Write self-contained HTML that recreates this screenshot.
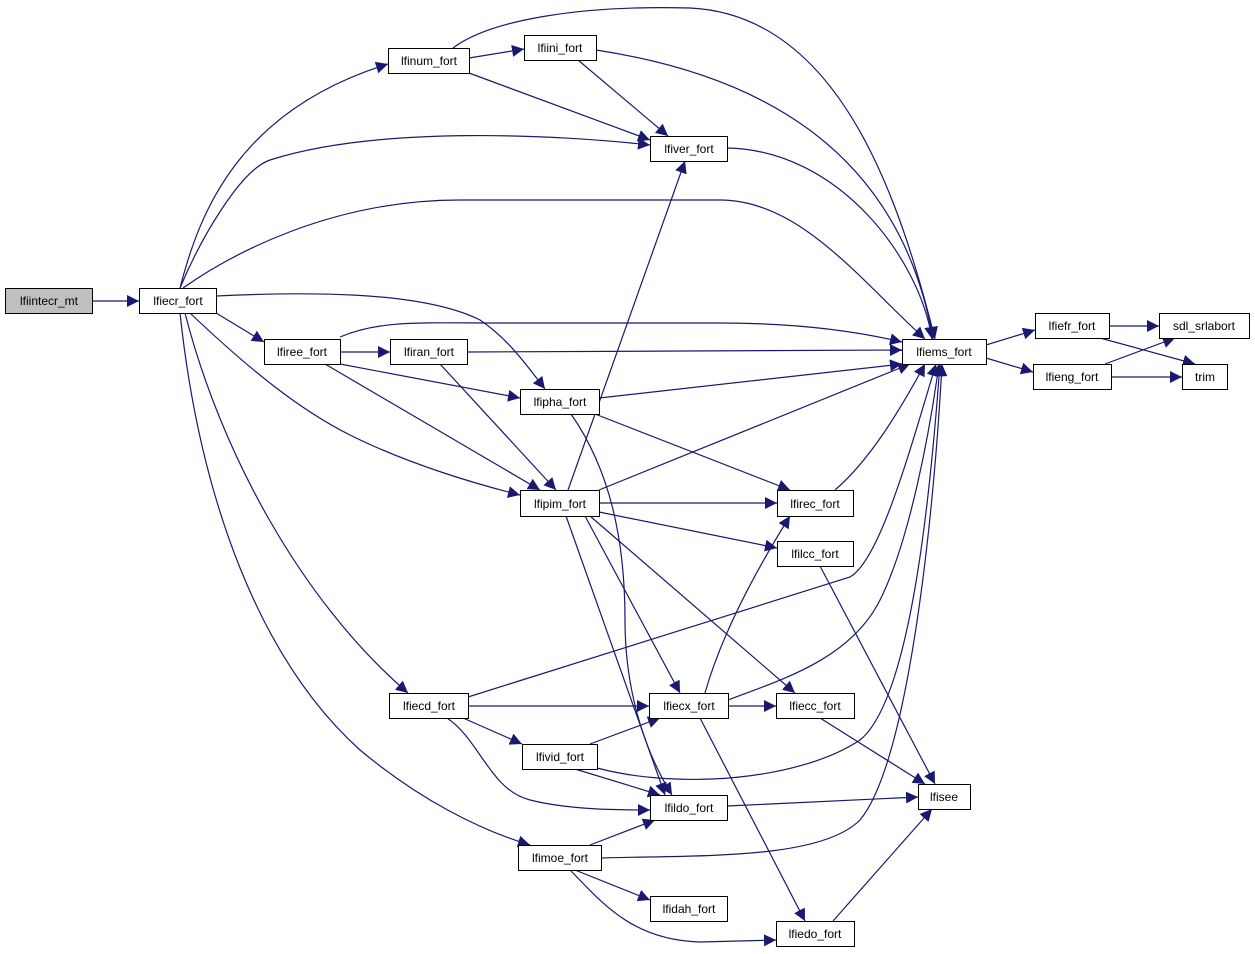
<!DOCTYPE html>
<html><head><meta charset="utf-8"><style>
html,body{margin:0;padding:0;background:#fff;width:1255px;height:954px;overflow:hidden}
svg{display:block}
text{font-family:"Liberation Sans",Arial,sans-serif;font-size:12px;fill:#000}
</style></head><body>
<svg width="1255" height="954" viewBox="0 0 1255 954" xmlns="http://www.w3.org/2000/svg">
<defs><marker id="a" viewBox="0 0 10 10" refX="10" refY="5" markerWidth="12" markerHeight="12" markerUnits="userSpaceOnUse" orient="auto"><path d="M0,0 L10,5 L0,10 z" fill="#191970"/></marker></defs>
<g fill="none" stroke="#191970" stroke-width="1.2" marker-end="url(#a)">
<path d="M92,301 L139,301"/>
<path d="M180,288 C200,210 240,110 388,64"/>
<path d="M180,288 C200,240 240,170 270,160 C380,125 560,135 650,145"/>
<path d="M183,288 C230,255 330,200 460,200 L720,200 C800,200 860,280 925,339"/>
<path d="M216,313 L264,342"/>
<path d="M216,296 C300,292 420,290 480,320 C510,340 530,370 545,389"/>
<path d="M190,313 C250,370 300,410 350,435 C410,465 480,485 520,495"/>
<path d="M185,313 C220,450 300,600 408,693"/>
<path d="M180,313 C200,500 260,660 360,750 C420,800 480,830 530,845"/>
<path d="M469,58 L524,49"/>
<path d="M469,73 L650,140"/>
<path d="M453,48 C490,20 580,5 690,8 C840,15 900,200 935,339"/>
<path d="M578,60 L668,136"/>
<path d="M596,50 C760,75 900,150 933,339"/>
<path d="M727,148 C840,150 920,260 932,339"/>
<path d="M340,352 L390,352"/>
<path d="M340,337 C380,320 420,323 500,323 L720,323 C800,323 860,332 902,342"/>
<path d="M340,364 L520,398"/>
<path d="M325,364 L540,490"/>
<path d="M467,352 L902,350"/>
<path d="M440,364 L556,490"/>
<path d="M599,398 L902,364"/>
<path d="M595,414 L790,490"/>
<path d="M571,414 C610,470 625,540 625,620 C625,700 650,760 672,795"/>
<path d="M568,490 L685,161"/>
<path d="M599,490 L910,364"/>
<path d="M599,503 L777,503"/>
<path d="M599,512 L777,548"/>
<path d="M585,516 L680,693"/>
<path d="M590,516 L795,693"/>
<path d="M566,516 L665,795"/>
<path d="M820,566 L935,784"/>
<path d="M835,490 C870,460 900,410 925,364"/>
<path d="M468,697 L850,577 C880,560 910,450 936,364"/>
<path d="M468,706 L649,706"/>
<path d="M463,718 L522,744"/>
<path d="M447,718 C480,740 490,790 530,800 C570,810 620,810 650,810"/>
<path d="M728,700 C780,680 850,660 880,600 C910,540 930,430 939,364"/>
<path d="M728,706 L776,706"/>
<path d="M705,693 C720,640 750,580 790,516"/>
<path d="M700,718 L805,921"/>
<path d="M590,744 L660,718"/>
<path d="M575,769 L660,795"/>
<path d="M597,768 C680,790 800,780 860,740 C910,700 930,500 940,364"/>
<path d="M820,718 L925,784"/>
<path d="M727,806 L918,797"/>
<path d="M590,845 L655,820"/>
<path d="M601,858 C700,855 820,860 860,820 C910,760 935,500 942,364"/>
<path d="M575,870 L650,900"/>
<path d="M570,870 C600,900 630,940 700,942 L776,940"/>
<path d="M833,921 L932,809"/>
<path d="M986,345 L1035,330"/>
<path d="M986,358 L1033,372"/>
<path d="M1109,326 L1159,326"/>
<path d="M1100,338 L1195,364"/>
<path d="M1105,364 L1175,338"/>
<path d="M1111,377 L1182,377"/>
</g>
<g stroke="#000" stroke-width="1" fill="#fff">
<rect x="5.5" y="288.5" width="87" height="25" fill="#bfbfbf"/>
<rect x="139.5" y="288.5" width="77" height="25"/>
<rect x="388.5" y="48.5" width="81" height="25"/>
<rect x="524.5" y="35.5" width="72" height="25"/>
<rect x="650.5" y="136.5" width="77" height="25"/>
<rect x="902.5" y="339.5" width="84" height="25"/>
<rect x="1035.5" y="313.5" width="74" height="25"/>
<rect x="1033.5" y="364.5" width="78" height="25"/>
<rect x="1159.5" y="313.5" width="90" height="25"/>
<rect x="1182.5" y="364.5" width="45" height="25"/>
<rect x="264.5" y="339.5" width="76" height="25"/>
<rect x="390.5" y="339.5" width="77" height="25"/>
<rect x="520.5" y="389.5" width="79" height="25"/>
<rect x="520.5" y="490.5" width="79" height="26"/>
<rect x="777.5" y="490.5" width="76" height="26"/>
<rect x="777.5" y="541.5" width="76" height="25"/>
<rect x="389.5" y="693.5" width="79" height="25"/>
<rect x="649.5" y="693.5" width="79" height="25"/>
<rect x="776.5" y="693.5" width="78" height="25"/>
<rect x="522.5" y="744.5" width="75" height="25"/>
<rect x="650.5" y="795.5" width="77" height="25"/>
<rect x="918.5" y="784.5" width="52" height="25"/>
<rect x="518.5" y="845.5" width="83" height="25"/>
<rect x="650.5" y="896.5" width="77" height="25"/>
<rect x="776.5" y="921.5" width="78" height="25"/>
</g>
<g text-anchor="middle">
<text x="49" y="305">lfiintecr_mt</text>
<text x="178" y="305">lfiecr_fort</text>
<text x="429" y="65">lfinum_fort</text>
<text x="560" y="52">lfiini_fort</text>
<text x="689" y="153">lfiver_fort</text>
<text x="944" y="356">lfiems_fort</text>
<text x="1072" y="330">lfiefr_fort</text>
<text x="1072" y="381">lfieng_fort</text>
<text x="1204" y="330">sdl_srlabort</text>
<text x="1205" y="381">trim</text>
<text x="302" y="356">lfiree_fort</text>
<text x="429" y="356">lfiran_fort</text>
<text x="560" y="406">lfipha_fort</text>
<text x="560" y="508">lfipim_fort</text>
<text x="815" y="508">lfirec_fort</text>
<text x="815" y="558">lfilcc_fort</text>
<text x="429" y="710">lfiecd_fort</text>
<text x="689" y="710">lfiecx_fort</text>
<text x="815" y="710">lfiecc_fort</text>
<text x="560" y="761">lfivid_fort</text>
<text x="689" y="812">lfildo_fort</text>
<text x="944" y="801">lfisee</text>
<text x="560" y="862">lfimoe_fort</text>
<text x="689" y="913">lfidah_fort</text>
<text x="815" y="938">lfiedo_fort</text>
</g>
</svg>
</body></html>
